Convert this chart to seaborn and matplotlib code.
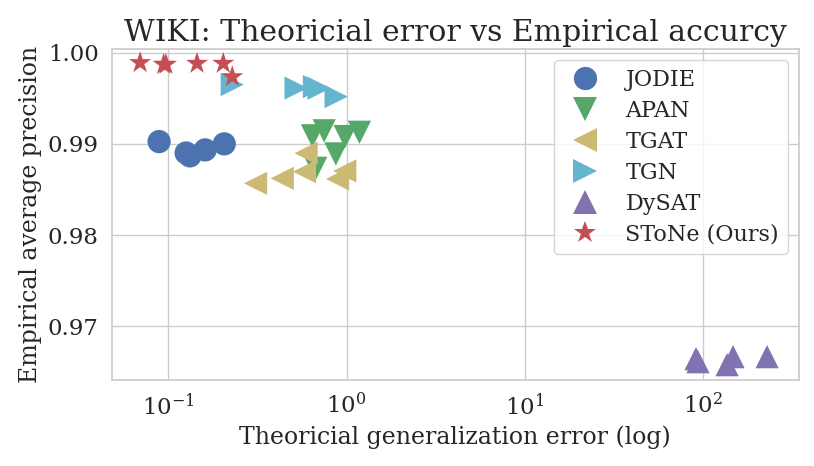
import numpy as np
import pandas as pd
import matplotlib
matplotlib.use("Agg")
import matplotlib.pyplot as plt
import seaborn as sns

# values
methods = ["JODIE", "APAN", "TGAT", "TGN", "DySAT", "SToNe (Ours)"]

jodie_err = [0.0886, 0.1256, 0.132, 0.1607, 0.2056]
jodie_ap = [0.99025, 0.9890, 0.98868, 0.98934, 0.9900]

apan_err = [0.643, 0.748, 0.98, 1.18, 0.87, 0.671]
apan_ap = [0.99088, 0.99143, 0.9908, 0.99127, 0.9889, 0.98732]

tgat_err = [0.592, 0.308, 0.435, 0.58, 0.889, 0.976]
tgat_ap = [0.98897, 0.98567, 0.98622, 0.98695, 0.98615, 0.98703]

tgn_err = [0.228, 0.52, 0.66, 0.70, 0.873]
tgn_ap = [0.9965, 0.99612, 0.99628, 0.9961, 0.99518]

dysat_err = [91.4, 93.7, 136.5, 147.5, 229.0]
dysat_ap = [0.96644, 0.96611, 0.96578, 0.96666, 0.96666]

stone_err = [0.0693, 0.094, 0.0968, 0.1447, 0.203, 0.228]
stone_ap = [0.9989, 0.99871, 0.99871, 0.99882, 0.99882, 0.99735]

errs = [jodie_err, apan_err, tgat_err, tgn_err, dysat_err, stone_err]
aps = [jodie_ap, apan_ap, tgat_ap, tgn_ap, dysat_ap, stone_ap]

df = pd.concat(
    [pd.DataFrame({"err": e, "ap": a, "method": m}) for m, e, a in zip(methods, errs, aps)],
    ignore_index=True,
)

colors = ["#4C72B0", "#55A868", "#CCB974", "#64B5CD", "#8172B2", "#C44E52"]
markers = ["o", "v", "<", ">", "^", "*"]

sns.set_theme(style="whitegrid", font="serif")
plt.rcParams["font.family"] = ["DejaVu Serif"]

fig = plt.figure(figsize=(8.14, 4.66), dpi=100)
ax = fig.add_axes([0.1372, 0.1845, 0.8444, 0.7103])

sns.scatterplot(
    data=df, x="err", y="ap", hue="method", style="method",
    hue_order=methods, style_order=methods,
    palette=dict(zip(methods, colors)), markers=dict(zip(methods, markers)),
    s=280, linewidth=0, ax=ax,
)
ax.set_xscale("log")
ax.set_xlim(0.048, 346)
ax.set_ylim(0.9641, 1.0004)
ax.set_yticks([0.97, 0.98, 0.99, 1.00])
ax.tick_params(labelsize=16.5)
ax.set_xlabel("Theoricial generalization error (log)", fontsize=17)
ax.set_ylabel("Empirical average precision", fontsize=17)
ax.set_title("WIKI: Theoricial error vs Empirical accurcy", fontsize=21.5)

ax.legend(loc="upper right", fontsize=16, markerscale=1.0, labelspacing=0.4)

fig.savefig("out.png", dpi=100)
